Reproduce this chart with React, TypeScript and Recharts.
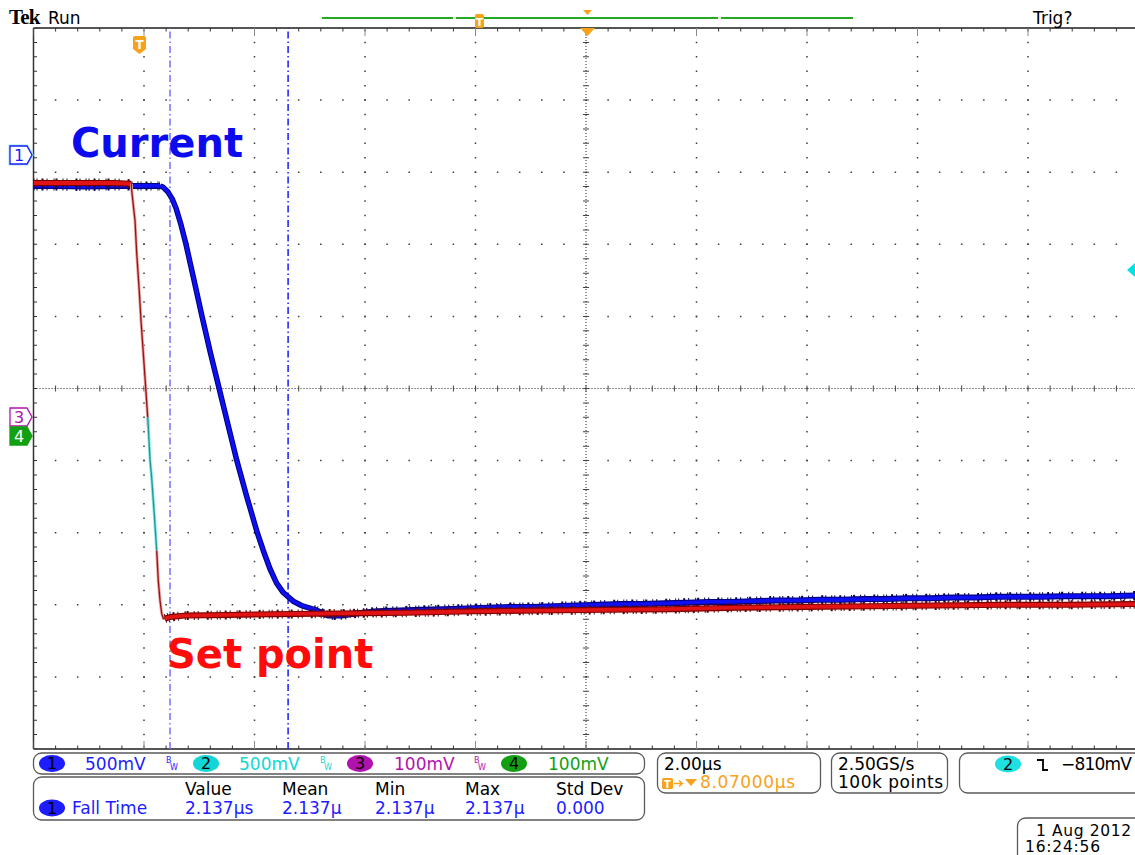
import React from 'react';
import { LineChart, Line, XAxis, YAxis, ReferenceLine } from 'recharts';

// Time base: 2.00 µs/div, 10 divisions, screen centre 8.07 µs after the trigger.
// Vertical values are in screen divisions (+5 top, -5 bottom).
const T_MIN = -1.93;
const T_MAX = 18.07;
const T_CENTER = 8.07;
const V_MIN = -5;
const V_MAX = 5;

const GRID_T = [0.07, 2.07, 4.07, 6.07, 10.07, 12.07, 14.07, 16.07];
const GRID_V = [-4, -3, -2, -1, 1, 2, 3, 4];
const CURSOR_T = [0.541, 2.678]; // fall-time gates, 2.137 µs apart

// Ch1 current probe: before, during and after the falling edge
const CH1_HIGH = [
  [-1.93, 2.81], [-1.5, 2.81], [-1.0, 2.8], [-0.5, 2.81], [0.0, 2.81], [0.25, 2.81], [0.36, 2.81],
];
const CH1_EDGE = [
  [0.36, 2.81], [0.42, 2.79], [0.5, 2.73], [0.58, 2.63], [0.65, 2.5], [0.74, 2.27], [0.83, 2.0],
  [0.97, 1.52], [1.12, 1.0], [1.27, 0.5], [1.43, 0.0], [1.59, -0.5], [1.75, -1.0], [1.93, -1.5],
  [2.12, -2.0], [2.23, -2.25], [2.35, -2.5], [2.47, -2.7], [2.59, -2.83], [2.77, -2.95],
  [2.92, -3.01], [3.13, -3.06],
];
const CH1_LOW = [
  [3.13, -3.06], [3.4, -3.15], [3.65, -3.15], [3.9, -3.12], [4.3, -3.09], [4.7, -3.08],
  [5.1, -3.07], [5.5, -3.06], [5.9, -3.05], [6.3, -3.04], [6.7, -3.03], [7.1, -3.03],
  [7.5, -3.02], [7.9, -3.01], [8.3, -3.0], [8.7, -2.99], [9.1, -2.99], [9.5, -2.98],
  [9.9, -2.97], [10.3, -2.96], [10.7, -2.96], [11.1, -2.95], [11.5, -2.94], [11.9, -2.94],
  [12.3, -2.93], [12.7, -2.93], [13.1, -2.92], [13.5, -2.92], [13.9, -2.91], [14.3, -2.91],
  [14.7, -2.9], [15.1, -2.9], [15.5, -2.89], [15.9, -2.89], [16.3, -2.89], [16.7, -2.88],
  [17.1, -2.88], [17.5, -2.88], [18.07, -2.87],
];

// Set point reference, split where the trace is drawn faint on the edge
const SET_POINT_HIGH = [
  [-1.93, 2.85], [-1.0, 2.85], [-0.5, 2.85], [-0.16, 2.84],
];
const SET_POINT_EDGE_UPPER = [
  [-0.16, 2.84], [-0.153, 2.75], [-0.093, 2.33], [-0.062, 1.875], [-0.02, 1.4], [0.016, 0.94],
  [0.057, 0.49], [0.101, 0.01], [0.137, -0.4], [0.148, -0.54],
];
const CH2_EDGE = [
  [0.137, -0.4], [0.148, -0.54], [0.179, -0.99], [0.209, -1.24], [0.256, -1.74], [0.3, -2.25],
];
const SET_POINT_EDGE_LOWER = [
  [0.3, -2.25], [0.329, -2.67], [0.36, -2.94], [0.39, -3.12], [0.42, -3.19], [0.45, -3.19],
];
const SET_POINT_LOW = [
  [0.45, -3.19], [0.54, -3.17], [0.8, -3.15], [1.6, -3.14], [2.4, -3.13], [3.6, -3.12],
  [4.8, -3.11], [6.0, -3.09], [7.2, -3.08], [8.4, -3.07], [9.6, -3.06], [10.8, -3.04],
  [12.0, -3.03], [13.2, -3.02], [14.4, -3.01], [15.6, -3.0], [16.8, -3.0], [18.07, -2.99],
];

const toPts = (rows: number[][]) => rows.map(([t, v]) => ({ t, v }));

const W = 1135;
const H = 855;
const PLOT_L = 33.5;
const PLOT_T = 28;
const PLOT_R = 1138.5;
const PLOT_B = 749;
const CHART_W = 1146;
const MINOR_X = (PLOT_R - PLOT_L) / 50;
const MINOR_Y = (PLOT_B - PLOT_T) / 50;

const FONT = "'DejaVu Sans', Verdana, sans-serif";
const BLUE = '#1c1cff';
const CYAN = '#12d6d6';
const MAGENTA = '#b012b0';
const GREEN = '#12a012';
const ORANGE = '#f7a21b';

// irregular dash pattern used to speckle the noisy flat parts of a trace
const NOISE_DASH = '1 2 1 4 2 3 1 6 1 1 2 5 1 3 1 8 2 2 1 5';

const Trace = ({ data, under, over, wUnder, wOver, noise }: any) => {
  const pts = toPts(data);
  const common = { data: pts, dataKey: 'v', type: 'linear' as const, dot: false, activeDot: false, isAnimationActive: false };
  return [
    noise && <Line key="n" {...common} stroke={noise} strokeWidth={wUnder + 3} strokeDasharray={NOISE_DASH} strokeLinecap="butt" />,
    <Line key="u" {...common} stroke={under} strokeWidth={wUnder} strokeLinejoin="round" />,
    <Line key="o" {...common} stroke={over} strokeWidth={wOver} strokeLinejoin="round" />,
  ];
};

const Pill = ({ x, y, fill, n }: { x: number; y: number; fill: string; n: string }) => (
  <g>
    <ellipse cx={x + 13} cy={y} rx={13} ry={8.5} fill={fill} />
    <text x={x + 13} y={y + 5.5} textAnchor="middle" fontSize={16} fill="#000" fontFamily={FONT}>{n}</text>
  </g>
);

const Bw = ({ x, y, color }: { x: number; y: number; color: string }) => (
  <g fontFamily={FONT} fontSize={8} fill={color}>
    <text x={x} y={y - 3}>B</text>
    <text x={x + 4} y={y + 4}>W</text>
  </g>
);

const Box = ({ x, y, w, h }: { x: number; y: number; w: number; h: number }) => (
  <rect x={x} y={y} width={w} height={h} rx={8} fill="none" stroke="#5a5a5a" strokeWidth={1.3} />
);

const Marker = ({ y, n, stroke, fill, textFill, halo }: any) => (
  <g>
    {halo && (
      <polygon points={`10,${y - 9} 27,${y - 9} 32,${y} 27,${y + 9} 10,${y + 9}`}
        fill="none" stroke={halo} strokeWidth={3} />
    )}
    <polygon points={`10,${y - 9} 27,${y - 9} 32,${y} 27,${y + 9} 10,${y + 9}`}
      fill={fill} stroke={stroke} strokeWidth={1.3} />
    <text x={19} y={y + 6} textAnchor="middle" fontSize={16} fill={textFill} fontFamily={FONT}>{n}</text>
  </g>
);

const Overlay = () => (
  <svg width={W} height={H} style={{ position: 'absolute', left: 0, top: 0, pointerEvents: 'none' }}>
    {/* header */}
    <text x={9} y={24} fontFamily="'Liberation Serif', serif" fontWeight="bold" fontSize={21}
      letterSpacing={-0.8}>Tek</text>
    <text x={48} y={24} fontFamily={FONT} fontSize={17}>Run</text>
    <text x={1033} y={24} fontFamily={FONT} fontSize={17}>Trig?</text>

    {/* record view bar */}
    <line x1={322} y1={18} x2={453} y2={18} stroke="#22aa22" strokeWidth={2} />
    <line x1={456} y1={18} x2={718} y2={18} stroke="#22aa22" strokeWidth={2} />
    <line x1={721} y1={18} x2={853} y2={18} stroke="#22aa22" strokeWidth={2} />
    <rect x={475} y={14} width={9} height={14} rx={2} fill={ORANGE} />
    <text x={479.5} y={25.5} textAnchor="middle" fontSize={11} fill="#fff" fontWeight="bold" fontFamily={FONT}>T</text>
    <polygon points="583,10 592,10 587.5,15" fill={ORANGE} />
    <polygon points="580,28 595,28 587.5,36" fill={ORANGE} />

    {/* trigger position */}
    <path d="M133,38 Q133,36 135,36 H144 Q146,36 146,38 V49 L139.5,54 L133,49 Z" fill={ORANGE} />
    <text x={139.5} y={49} textAnchor="middle" fontSize={12} fill="#fff" fontWeight="bold" fontFamily={FONT}>T</text>

    {/* channel ground markers */}
    <Marker y={155} n="1" stroke={BLUE} fill="#fff" textFill={BLUE} halo="#9fe6f2" />
    <Marker y={417} n="3" stroke={MAGENTA} fill="#fff" textFill={MAGENTA} />
    <Marker y={436} n="4" stroke={GREEN} fill={GREEN} textFill="#fff" />
    <polygon points="1127,270 1136,262 1136,278" fill="#00e2e2" />

    {/* annotations */}
    <text x={71} y={157} fontFamily={FONT} fontWeight="bold" fontSize={40} fill="#0b0bee">Current</text>
    <text x={167} y={668} fontFamily={FONT} fontWeight="bold" fontSize={40} fill="#ff0b0b">Set point</text>

    {/* channel readout */}
    <Box x={33.5} y={753} w={611} h={21} />
    <g fontFamily={FONT} fontSize={17}>
      <Pill x={39} y={763.5} fill={BLUE} n="1" />
      <text x={85} y={769.5} fill={BLUE}>500mV</text>
      <Bw x={166} y={766} color={BLUE} />
      <Pill x={193} y={763.5} fill={CYAN} n="2" />
      <text x={239} y={769.5} fill={CYAN}>500mV</text>
      <Bw x={320} y={766} color={CYAN} />
      <Pill x={347} y={763.5} fill={MAGENTA} n="3" />
      <text x={394} y={769.5} fill={MAGENTA}>100mV</text>
      <Bw x={474} y={766} color={MAGENTA} />
      <Pill x={501} y={763.5} fill={GREEN} n="4" />
      <text x={548} y={769.5} fill={GREEN}>100mV</text>
    </g>

    {/* measurement table */}
    <Box x={33.5} y={777} w={611} h={43} />
    <g fontFamily={FONT} fontSize={17}>
      <text x={185} y={795}>Value</text>
      <text x={282} y={795}>Mean</text>
      <text x={375} y={795}>Min</text>
      <text x={465} y={795}>Max</text>
      <text x={556} y={795}>Std Dev</text>
      <Pill x={39} y={808} fill={BLUE} n="1" />
      <g fill={BLUE}>
        <text x={72} y={814}>Fall Time</text>
        <text x={185} y={814}>2.137µs</text>
        <text x={282} y={814}>2.137µ</text>
        <text x={375} y={814}>2.137µ</text>
        <text x={465} y={814}>2.137µ</text>
        <text x={556} y={814}>0.000</text>
      </g>
    </g>

    {/* horizontal readout */}
    <Box x={657.5} y={753} w={163} h={40} />
    <text x={664} y={770} fontFamily={FONT} fontSize={17}>2.00µs</text>
    <rect x={662} y={778} width={11} height={11} rx={1.5} fill={ORANGE} />
    <text x={667.5} y={788} textAnchor="middle" fontSize={10} fill="#fff" fontWeight="bold" fontFamily={FONT}>T</text>
    <path d="M674,783.5 H682 M679,780.5 L682.5,783.5 L679,786.5" stroke={ORANGE} strokeWidth={1.3} fill="none" />
    <polygon points="685,779 697,779 691,786" fill={ORANGE} />
    <text x={700} y={788} fontFamily={FONT} fontSize={17} fill={ORANGE} textLength={95}>8.07000µs</text>

    {/* acquisition */}
    <Box x={831.5} y={753} w={116} h={40} />
    <text x={838} y={770} fontFamily={FONT} fontSize={17}>2.50GS/s</text>
    <text x={838} y={788} fontFamily={FONT} fontSize={17} textLength={105}>100k points</text>

    {/* trigger */}
    <Box x={959.5} y={753} w={190} h={40} />
    <Pill x={995} y={764} fill="#1fe0e0" n="2" />
    <path d="M1037,760 H1043 V770 H1048" stroke="#000" strokeWidth={1.8} fill="none" />
    <text x={1061} y={770} fontFamily={FONT} fontSize={17} textLength={71}>−810mV</text>

    {/* date */}
    <Box x={1017.5} y={818} w={140} h={50} />
    <text x={1036} y={836} fontFamily={FONT} fontSize={15.5} textLength={95}>1 Aug 2012</text>
    <text x={1025} y={852} fontFamily={FONT} fontSize={15.5} textLength={75}>16:24:56</text>
  </svg>
);

export default function App() {
  return (
    <div style={{ position: 'absolute', left: 0, top: 0, width: W, height: H, overflow: 'hidden', background: '#fff' }}>
      <LineChart width={CHART_W} height={H}
        margin={{ top: PLOT_T, left: PLOT_L, right: CHART_W - PLOT_R, bottom: H - PLOT_B }}>
        <XAxis type="number" dataKey="t" domain={[T_MIN, T_MAX]} allowDataOverflow hide />
        <YAxis type="number" domain={[V_MIN, V_MAX]} allowDataOverflow hide />

        {/* dotted graticule */}
        {GRID_T.map((t) => (
          <ReferenceLine key={`gx${t}`} x={t} stroke="#3c3c3c" strokeWidth={1.5}
            strokeDasharray={`1.5 ${MINOR_Y - 1.5}`} strokeDashoffset={0.75} />
        ))}
        {GRID_V.map((v) => (
          <ReferenceLine key={`gy${v}`} y={v} stroke="#3c3c3c" strokeWidth={1.5}
            strokeDasharray={`1.5 ${MINOR_X - 1.5}`} strokeDashoffset={0.75} />
        ))}

        {/* centre crosshair with minor ticks */}
        <ReferenceLine x={T_CENTER} stroke="#222" strokeWidth={1} strokeDasharray="1 2" />
        <ReferenceLine y={0} stroke="#222" strokeWidth={1} strokeDasharray="1 2" />
        <ReferenceLine x={T_CENTER} stroke="#444" strokeWidth={6}
          strokeDasharray={`1 ${MINOR_Y - 1}`} strokeDashoffset={0.5} />
        <ReferenceLine y={0} stroke="#444" strokeWidth={6}
          strokeDasharray={`1 ${MINOR_X - 1}`} strokeDashoffset={0.5} />

        {/* frame */}
        <ReferenceLine y={V_MAX} stroke="#555" strokeWidth={2} />
        <ReferenceLine y={V_MIN} stroke="#555" strokeWidth={2} />
        <ReferenceLine x={T_MIN} stroke="#333" strokeWidth={1.5} />
        <ReferenceLine y={V_MAX} stroke="#333" strokeWidth={7} ifOverflow="hidden"
          strokeDasharray={`1 ${MINOR_X - 1}`} strokeDashoffset={0.5} />
        <ReferenceLine y={V_MIN} stroke="#333" strokeWidth={7} ifOverflow="hidden"
          strokeDasharray={`1 ${MINOR_X - 1}`} strokeDashoffset={0.5} />
        <ReferenceLine x={T_MIN} stroke="#333" strokeWidth={7} ifOverflow="hidden"
          strokeDasharray={`1 ${MINOR_Y - 1}`} strokeDashoffset={0.5} />
        <ReferenceLine y={V_MAX} stroke="#888" strokeWidth={16} ifOverflow="hidden"
          strokeDasharray={`1 ${MINOR_X * 5 - 1}`} strokeDashoffset={0.5} />
        <ReferenceLine y={V_MIN} stroke="#888" strokeWidth={16} ifOverflow="hidden"
          strokeDasharray={`1 ${MINOR_X * 5 - 1}`} strokeDashoffset={0.5} />

        {/* cursors */}
        <ReferenceLine x={CURSOR_T[0]} stroke="#7070ff" strokeWidth={1.5} strokeDasharray="7 3 1.5 3" />
        <ReferenceLine x={CURSOR_T[1]} stroke="#1a1aff" strokeWidth={1.5} strokeDasharray="7 3 1.5 3" />

        {Trace({ data: CH1_HIGH, under: '#00007a', over: '#0f0ff4', wUnder: 6, wOver: 3.8, noise: '#000050' })}
        {Trace({ data: CH1_EDGE, under: '#00007a', over: '#0f0ff4', wUnder: 5.5, wOver: 3.5 })}
        {Trace({ data: CH1_LOW, under: '#00007a', over: '#0f0ff4', wUnder: 6, wOver: 3.8, noise: '#000050' })}
        {Trace({ data: SET_POINT_HIGH, under: '#7a0000', over: '#e01414', wUnder: 6, wOver: 3.8, noise: '#3a0000' })}
        {Trace({ data: SET_POINT_EDGE_UPPER, under: '#e8a6a6', over: '#9c1010', wUnder: 3, wOver: 1.3 })}
        {Trace({ data: CH2_EDGE, under: '#8ee3e3', over: '#1a9a9a', wUnder: 3, wOver: 1.3 })}
        {Trace({ data: SET_POINT_EDGE_LOWER, under: '#e8a6a6', over: '#9c1010', wUnder: 3, wOver: 1.3 })}
        {Trace({ data: SET_POINT_LOW, under: '#7a0000', over: '#e01414', wUnder: 6, wOver: 3.8, noise: '#5a0000' })}
      </LineChart>
      <Overlay />
    </div>
  );
}
